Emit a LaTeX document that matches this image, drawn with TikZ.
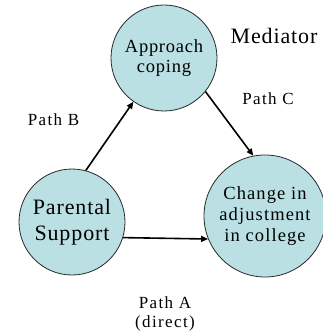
\documentclass[tikz,border=0pt]{standalone}
\usepackage{fontspec}
\setmainfont{Liberation Serif}
\newfontfamily\trkS[LetterSpace=4]{Liberation Serif}
\newfontfamily\trkM[LetterSpace=6]{Liberation Serif}
\newfontfamily\trkL[LetterSpace=8]{Liberation Serif}
\usetikzlibrary{arrows.meta}
\definecolor{bubble}{RGB}{186,224,228}
\definecolor{rim}{RGB}{40,40,40}
\tikzset{
  bubble/.style={circle, draw=rim, line width=0.8pt, fill=bubble,
                 inner sep=0pt, align=center},
  label/.style={inner sep=0pt, align=center},
  link/.style={line width=1.6pt, -{Triangle[length=7pt,width=6pt]}}
}
\begin{document}
\begin{tikzpicture}[x=1pt,y=-1pt]
  \useasboundingbox (0,0) rectangle (322,334);
  % the three variables
  \node[bubble, minimum size=106pt, font={\trkS\fontsize{18.5}{20.5}\selectfont}]
    (ac) at (164,58) {Approach\\coping};
  \node[bubble, minimum size=106pt, font={\trkS\fontsize{22}{26}\selectfont}]
    (ps) at (72,222) {Parental\\Support};
  \node[bubble, minimum size=122pt, font={\trkM\fontsize{18.5}{21}\selectfont}]
    (ch) at (265,216) {Change in\\adjustment\\in college};
  % labels
  \node[label, anchor=base, font={\trkS\fontsize{22}{26}\selectfont}]
    (med) at (274,44) {Mediator};
  \node[label, anchor=base, font={\trkL\fontsize{17}{19}\selectfont}]
    (pb) at (53.5,125) {Path B};
  \node[label, anchor=base, font={\trkL\fontsize{17}{19}\selectfont}]
    (pc) at (268,105) {Path C};
  \node[label, font={\trkL\fontsize{17}{19}\selectfont}]
    (pa) at (165,314) {Path A\\(direct)};
  % paths
  \draw[link] (ps.75) -- (ac.235);
  \draw[link] (ac.-39) -- (ch.101);
  \draw[link] (ps.-17) -- (ch.202);
\end{tikzpicture}
\end{document}
